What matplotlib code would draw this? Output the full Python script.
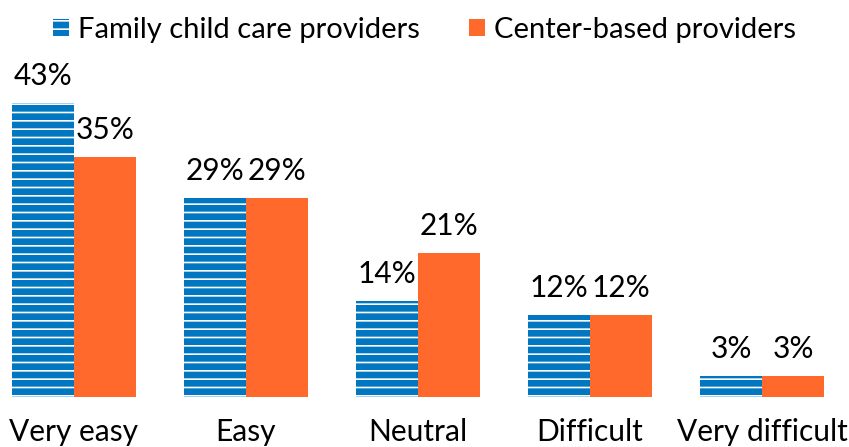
import numpy as np
import matplotlib.pyplot as plt

plt.rcParams['font.family'] = ['Lato', 'DejaVu Sans']
plt.rcParams['hatch.linewidth'] = 1.2

categories = ['Very easy', 'Easy', 'Neutral', 'Difficult', 'Very difficult']
family = [43, 29, 14, 12, 3]
center = [35, 29, 21, 12, 3]

blue = '#0077C0'
orange = '#FF6A2C'

fig = plt.figure(figsize=(8.49, 4.47), dpi=100)
ax = fig.add_axes([0, 0.112, 1, 0.888])

x = np.arange(len(categories))
w = 0.36
b1 = ax.bar(x - w / 2, family, w, color=blue, edgecolor='white', linewidth=0,
            hatch='--', label='Family child care providers')
b2 = ax.bar(x + w / 2, center, w, color=orange, linewidth=0,
            label='Center-based providers')

for bars, vals in [(b1, family), (b2, center)]:
    for r, v in zip(bars, vals):
        ax.text(r.get_x() + r.get_width() / 2, v + 1.9, f'{v}%',
                ha='center', va='bottom', fontsize=21.5)

ax.set_xlim(-0.43, 4.506)
ax.set_ylim(0, 58)
ax.set_xticks(x)
ax.set_xticklabels(categories, fontsize=21.5)
ax.tick_params(axis='x', length=0, pad=15)
ax.set_yticks([])
for s in ax.spines.values():
    s.set_visible(False)

fig.legend(loc='upper center', bbox_to_anchor=(0.5, 0.995), ncol=2, frameon=False,
           fontsize=21, handlelength=0.55, handleheight=0.55, handletextpad=0.3,
           columnspacing=1.7, borderaxespad=0.1)

fig.savefig('out.png', dpi=100)
